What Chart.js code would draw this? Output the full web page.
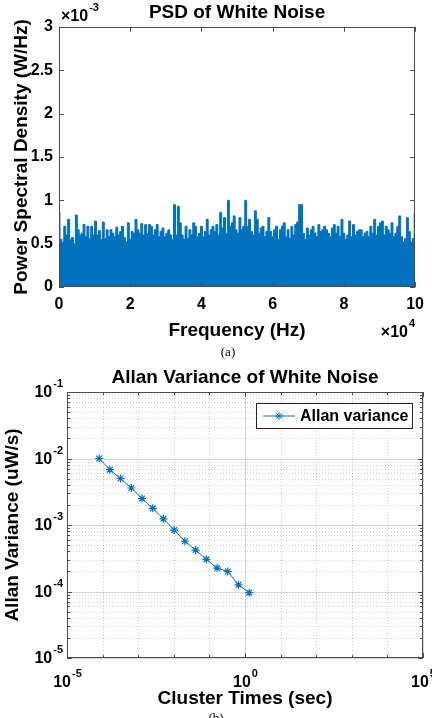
<!DOCTYPE html>
<html>
<head>
<meta charset="utf-8">
<script src="https://cdn.jsdelivr.net/npm/chart.js@4.4.1/dist/chart.umd.min.js"></script>
<style>
  html, body { margin: 0; padding: 0; background: #fff; }
  body { width: 432px; height: 718px; position: relative; overflow: hidden; }
  #psdBox { position: absolute; left: 0; top: 0; width: 432px; height: 360px; }
  #allanBox { position: absolute; left: 0; top: 360px; width: 432px; height: 358px; }
  #capB { position: absolute; left: 0; width: 432px; top: 710px; text-align: center;
          font: 13px "Liberation Serif", "Times New Roman", serif; color: #000; }
</style>
</head>
<body>
<div id="psdBox"><canvas id="psdChart" width="432" height="360"></canvas></div>
<div id="allanBox"><canvas id="allanChart" width="432" height="358"></canvas></div>
<div id="capB">(b)</div>
<script>
// PSD of white noise, values in units of 1e-3 W/Hz, evenly spaced from 0 to 1e5 Hz
const psdMaxFreq = 100000;
const psdValues = [
  0.86, 0.55, 0.52, 0.70, 0.60, 0.78, 0.55, 0.57, 0.50, 0.83, 0.66, 0.60, 0.62, 0.72, 0.58, 0.70,
  0.56, 0.70, 0.60, 0.76, 0.60, 0.65, 0.55, 0.75, 0.56, 0.66, 0.58, 0.66, 0.62, 0.58, 0.69, 0.60,
  0.64, 0.70, 0.57, 0.52, 0.74, 0.55, 0.64, 0.62, 0.78, 0.66, 0.62, 0.73, 0.60, 0.72, 0.62,
  0.72, 0.70, 0.60, 0.66, 0.72, 0.58, 0.64, 0.68, 0.58, 0.62, 0.66, 0.60, 0.55, 0.95, 0.60, 0.93,
  0.74, 0.60, 0.55, 0.70, 0.56, 0.66, 0.60, 0.74, 0.70, 0.58, 0.62, 0.70, 0.58, 0.64, 0.78, 0.60,
  0.66, 0.70, 0.64, 0.72, 0.60, 0.86, 0.68, 0.80, 0.62, 1.00, 0.70, 0.74, 0.82, 0.66,
  0.62, 0.80, 0.66, 0.70, 1.00, 0.70, 0.78, 0.64, 0.60, 0.88, 0.78, 0.62, 0.68, 0.70, 0.58, 0.64,
  0.80, 0.64, 0.58, 0.66, 0.70, 0.55, 0.66, 0.70, 0.74, 0.58, 0.66, 0.56, 0.70, 0.60, 0.72, 0.75,
  0.95, 0.95, 0.62, 0.55, 0.68, 0.60, 0.66, 0.70, 0.62, 0.58, 0.72, 0.64, 0.66, 0.70, 0.66,
  0.62, 0.58, 0.68, 0.72, 0.62, 0.70, 0.58, 0.78, 0.62, 0.55, 0.60, 0.76, 0.58, 0.72, 0.60, 0.64,
  0.66, 0.66, 0.58, 0.62, 0.64, 0.58, 0.70, 0.62, 0.78, 0.60, 0.70, 0.74, 0.76, 0.60, 0.70, 0.66,
  0.62, 0.74, 0.58, 0.62, 0.70, 0.82, 0.58, 0.52, 0.56, 0.80, 0.64, 0.52, 0.56, 0.85
];
const psdXTicks = [0, 20000, 40000, 60000, 80000, 100000];

// Allan variance
const clusterTimes = [8e-5, 1.6e-4, 3.2e-4, 6.4e-4, 1.28e-3, 2.56e-3, 5.12e-3, 1.024e-2,
  2.048e-2, 4.096e-2, 8.192e-2, 0.16384, 0.32768, 0.65536, 1.31072];
const allanValues = [1.0e-2, 6.8e-3, 5.0e-3, 3.6e-3, 2.5e-3, 1.78e-3, 1.24e-3, 8.4e-4,
  5.7e-4, 4.2e-4, 3.05e-4, 2.25e-4, 2.0e-4, 1.26e-4, 9.6e-5];
const allanXExp = [-5, 0, 5];
const allanYExp = [-5, -4, -3, -2, -1];

const BLUE = '#0072BD';
const FONT = '"Liberation Sans", Arial, sans-serif';
Chart.defaults.font.family = FONT;
Chart.defaults.color = '#000';

function drawPow(ctx, base, exp, x, y, align, size) {
  const baseFont = 'bold ' + size + 'px ' + FONT;
  const expFont = 'bold ' + Math.round(size * 0.68) + 'px ' + FONT;
  ctx.font = baseFont;
  const bw = ctx.measureText(base).width;
  ctx.font = expFont;
  const ew = ctx.measureText(exp).width;
  let x0 = x;
  if (align === 'right') x0 = x - bw - ew;
  if (align === 'center') x0 = x - (bw + ew) / 2;
  ctx.fillStyle = '#000';
  ctx.textAlign = 'left';
  ctx.textBaseline = 'middle';
  ctx.font = baseFont;
  ctx.fillText(base, x0, y);
  ctx.font = expFont;
  ctx.fillText(exp, x0 + bw + 1, y - size * 0.55);
}

function drawStar(ctx, x, y, r) {
  ctx.beginPath();
  for (let k = 0; k < 4; k++) {
    const a = k * Math.PI / 4;
    ctx.moveTo(x - r * Math.cos(a), y - r * Math.sin(a));
    ctx.lineTo(x + r * Math.cos(a), y + r * Math.sin(a));
  }
  ctx.stroke();
}

// frame, inward ticks and the x10 labels for the PSD plot
const psdFrame = {
  id: 'psdFrame',
  afterDraw(chart) {
    const { ctx, chartArea: a, scales: { x, y } } = chart;
    ctx.save();
    ctx.strokeStyle = '#4d4d4d';
    ctx.lineWidth = 1;
    ctx.beginPath();
    x.ticks.forEach(t => {
      const px = Math.round(x.getPixelForValue(t.value)) + 0.5;
      ctx.moveTo(px, a.bottom); ctx.lineTo(px, a.bottom - 5);
      ctx.moveTo(px, a.top); ctx.lineTo(px, a.top + 5);
    });
    y.ticks.forEach(t => {
      const py = Math.round(y.getPixelForValue(t.value)) + 0.5;
      ctx.moveTo(a.left, py); ctx.lineTo(a.left + 5, py);
      ctx.moveTo(a.right, py); ctx.lineTo(a.right - 5, py);
    });
    ctx.stroke();
    ctx.strokeRect(Math.round(a.left) + 0.5, Math.round(a.top) + 0.5,
      Math.round(a.width) - 1, Math.round(a.height) - 1);
    drawPow(ctx, '\u00d710', '-3', a.left + 2, 17, 'left', 16);
    drawPow(ctx, '\u00d710', '4', a.right - 1, 333, 'right', 16);
    ctx.font = '13px "Liberation Serif", "Times New Roman", serif';
    ctx.textAlign = 'center';
    ctx.textBaseline = 'middle';
    ctx.fillText('(a)', 228, 353);
    ctx.restore();
  }
};

// grid, frame, ticks, power labels and legend for the Allan plot
const allanDecor = {
  id: 'allanDecor',
  beforeDatasetsDraw(chart) {
    const { ctx, chartArea: a, scales: { x, y } } = chart;
    ctx.save();
    ctx.lineWidth = 1;
    ctx.strokeStyle = 'rgba(0,0,0,0.18)';
    ctx.setLineDash([1, 2]);
    ctx.beginPath();
    for (let e = -5; e < -1; e++) {
      for (let k = 2; k <= 9; k++) {
        const py = Math.round(y.getPixelForValue(k * Math.pow(10, e))) + 0.5;
        ctx.moveTo(a.left, py); ctx.lineTo(a.right, py);
      }
    }
    for (let e = -4; e <= 4; e++) {
      if (e === 0) continue;
      const px = Math.round(x.getPixelForValue(Math.pow(10, e))) + 0.5;
      ctx.moveTo(px, a.top); ctx.lineTo(px, a.bottom);
    }
    ctx.stroke();
    ctx.setLineDash([]);
    ctx.strokeStyle = '#d8d8d8';
    ctx.beginPath();
    allanYExp.forEach(e => {
      const py = Math.round(y.getPixelForValue(Math.pow(10, e))) + 0.5;
      ctx.moveTo(a.left, py); ctx.lineTo(a.right, py);
    });
    allanXExp.forEach(e => {
      const px = Math.round(x.getPixelForValue(Math.pow(10, e))) + 0.5;
      ctx.moveTo(px, a.top); ctx.lineTo(px, a.bottom);
    });
    ctx.stroke();
    ctx.restore();
  },
  afterDraw(chart) {
    const { ctx, chartArea: a, scales: { x, y } } = chart;
    ctx.save();
    ctx.strokeStyle = '#4d4d4d';
    ctx.lineWidth = 1;
    ctx.beginPath();
    for (let e = -5; e <= -1; e++) {
      const py = Math.round(y.getPixelForValue(Math.pow(10, e))) + 0.5;
      ctx.moveTo(a.left, py); ctx.lineTo(a.left + 5, py);
      ctx.moveTo(a.right, py); ctx.lineTo(a.right - 5, py);
      if (e === -1) continue;
      for (let k = 2; k <= 9; k++) {
        const pm = Math.round(y.getPixelForValue(k * Math.pow(10, e))) + 0.5;
        ctx.moveTo(a.left, pm); ctx.lineTo(a.left + 3, pm);
        ctx.moveTo(a.right, pm); ctx.lineTo(a.right - 3, pm);
      }
    }
    for (let e = -5; e <= 5; e++) {
      const len = allanXExp.includes(e) ? 5 : 3;
      const px = Math.round(x.getPixelForValue(Math.pow(10, e))) + 0.5;
      ctx.moveTo(px, a.bottom); ctx.lineTo(px, a.bottom - len);
      ctx.moveTo(px, a.top); ctx.lineTo(px, a.top + len);
    }
    ctx.stroke();
    ctx.strokeRect(Math.round(a.left) + 0.5, Math.round(a.top) + 0.5,
      Math.round(a.width) - 1, Math.round(a.height) - 1);

    allanYExp.forEach(e => {
      drawPow(ctx, '10', String(e), a.left - 5, y.getPixelForValue(Math.pow(10, e)) + 1, 'right', 16);
    });
    allanXExp.forEach(e => {
      drawPow(ctx, '10', String(e), x.getPixelForValue(Math.pow(10, e)), a.bottom + 25, 'center', 16);
    });

    // legend
    const lx = 256.5, ly = 43.5, lw = 156, lh = 25;
    ctx.fillStyle = '#fff';
    ctx.fillRect(lx, ly, lw, lh);
    ctx.strokeStyle = '#262626';
    ctx.strokeRect(lx, ly, lw, lh);
    const my = ly + lh / 2;
    ctx.strokeStyle = BLUE;
    ctx.beginPath();
    ctx.moveTo(263, my); ctx.lineTo(295, my);
    ctx.stroke();
    drawStar(ctx, 279, my, 4);
    ctx.fillStyle = '#000';
    ctx.font = 'bold 16px ' + FONT;
    ctx.textAlign = 'left';
    ctx.textBaseline = 'middle';
    ctx.fillText('Allan variance', 300, my + 1);
    ctx.restore();
  }
};

const psdPoints = psdValues.map((v, i) => ({ x: i * psdMaxFreq / (psdValues.length - 1), y: v }));

new Chart(document.getElementById('psdChart'), {
  type: 'line',
  data: {
    datasets: [{
      data: psdPoints,
      borderColor: BLUE,
      backgroundColor: BLUE,
      borderWidth: 1,
      fill: 'origin',
      pointRadius: 0,
      stepped: 'middle'
    }]
  },
  options: {
    responsive: false,
    animation: false,
    layout: { padding: { left: 0, right: 14, top: 0, bottom: 0 } },
    plugins: {
      legend: { display: false },
      tooltip: { enabled: false },
      title: {
        display: true,
        text: 'PSD of White Noise',
        fullSize: false,
        color: '#000',
        font: { size: 19, weight: 'bold' },
        padding: { top: 1, bottom: 3 }
      }
    },
    scales: {
      x: {
        type: 'linear',
        min: 0,
        max: psdMaxFreq,
        afterBuildTicks: s => { s.ticks = psdXTicks.map(v => ({ value: v })); },
        afterFit: s => { s.height = 73; },
        grid: { display: false, drawTicks: false },
        border: { display: false },
        ticks: {
          padding: 8,
          maxRotation: 0,
          font: { size: 16, weight: 'bold' },
          callback: v => String(v / 10000)
        },
        title: {
          display: true,
          text: 'Frequency (Hz)',
          font: { size: 19, weight: 'bold' },
          padding: { top: 0, bottom: 18 }
        }
      },
      y: {
        min: 0,
        max: 3,
        afterFit: s => { s.width = 59; },
        grid: { display: false, drawTicks: false },
        border: { display: false },
        ticks: {
          stepSize: 0.5,
          padding: 6,
          font: { size: 16, weight: 'bold' },
          callback: v => String(+v)
        },
        title: {
          display: true,
          text: 'Power Spectral Density (W/Hz)',
          font: { size: 19, weight: 'bold' },
          padding: { top: 10, bottom: 0 }
        }
      }
    }
  },
  plugins: [psdFrame]
});

new Chart(document.getElementById('allanChart'), {
  type: 'line',
  data: {
    datasets: [{
      label: 'Allan variance',
      data: clusterTimes.map((t, i) => ({ x: t, y: allanValues[i] })),
      borderColor: BLUE,
      backgroundColor: BLUE,
      borderWidth: 1,
      pointStyle: 'star',
      pointRadius: 4,
      pointBorderWidth: 1.2,
      pointBorderColor: BLUE,
      tension: 0
    }]
  },
  options: {
    responsive: false,
    animation: false,
    layout: { padding: { left: 0, right: 9, top: 0, bottom: 0 } },
    plugins: {
      legend: { display: false },
      tooltip: { enabled: false },
      title: {
        display: true,
        text: 'Allan Variance of White Noise',
        fullSize: false,
        color: '#000',
        font: { size: 19, weight: 'bold' },
        padding: { top: 6.5, bottom: 2.7 }
      }
    },
    scales: {
      x: {
        type: 'logarithmic',
        min: 1e-5,
        max: 1e5,
        afterFit: s => { s.height = 60; },
        grid: { display: false, drawTicks: false },
        border: { display: false },
        ticks: { display: false },
        title: {
          display: true,
          text: 'Cluster Times (sec)',
          font: { size: 19, weight: 'bold' },
          padding: { top: 0, bottom: 8 }
        }
      },
      y: {
        type: 'logarithmic',
        min: 1e-5,
        max: 1e-1,
        afterFit: s => { s.width = 67; },
        grid: { display: false, drawTicks: false },
        border: { display: false },
        ticks: { display: false },
        title: {
          display: true,
          text: 'Allan Variance (uW/s)',
          font: { size: 19, weight: 'bold' },
          padding: { top: 1.6, bottom: 0 }
        }
      }
    }
  },
  plugins: [allanDecor]
});
</script>
</body>
</html>
